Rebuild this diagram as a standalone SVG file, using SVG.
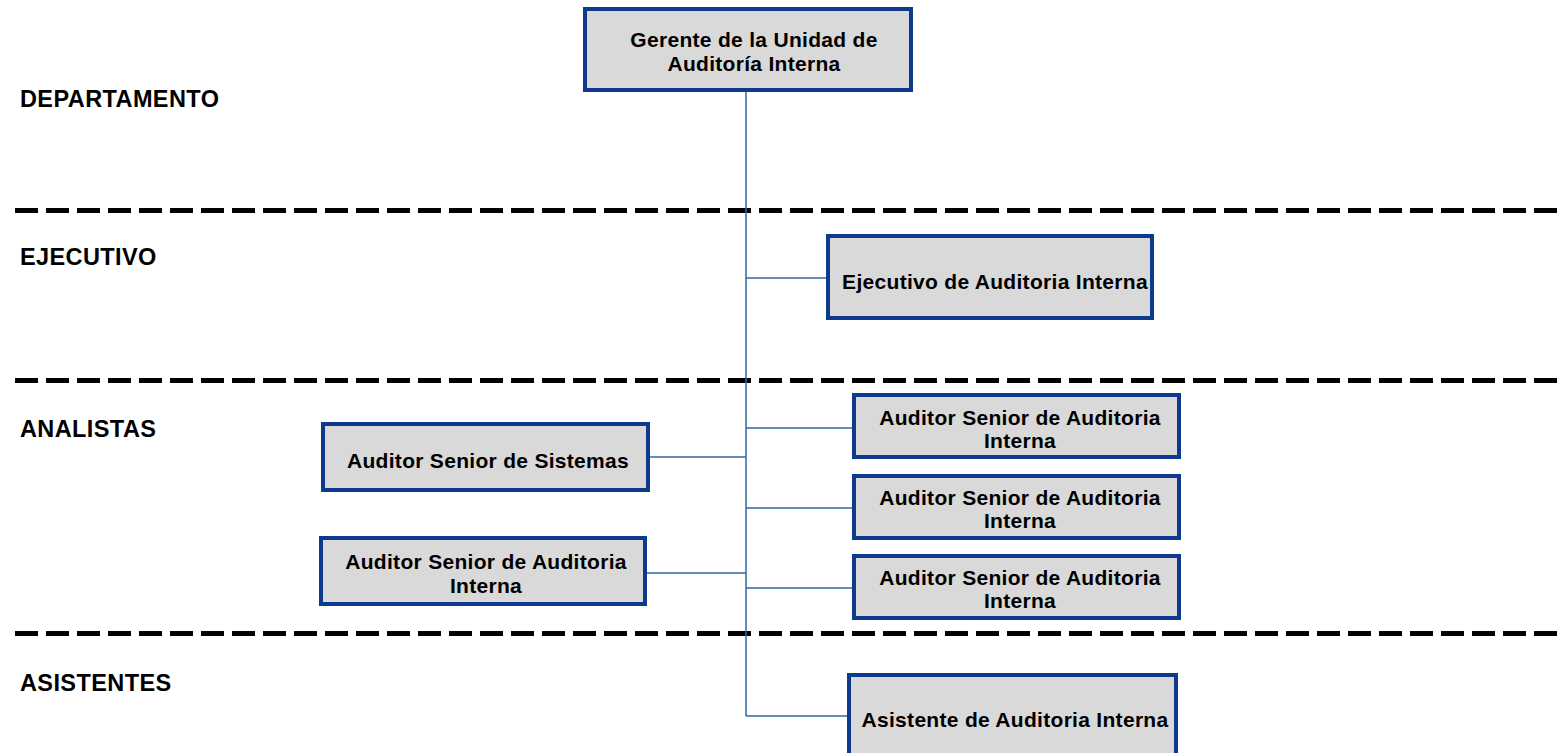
<svg xmlns="http://www.w3.org/2000/svg" width="1562" height="753" viewBox="0 0 1562 753">
<style>
.bg{fill:#ffffff}
.box{fill:#d9d9d9;stroke:#0d3a8c;stroke-width:4}
.t{font-family:"Liberation Sans",Arial,sans-serif;font-weight:bold;font-size:21px;letter-spacing:0.3px;fill:#000;text-anchor:middle}
.lab{font-family:"Liberation Sans",Arial,sans-serif;font-weight:bold;font-size:23.5px;letter-spacing:0.4px;fill:#000}
.sep{stroke:#000;stroke-width:5;stroke-dasharray:23 8;fill:none}
.con{stroke:#2f68a6;stroke-width:1.5;fill:none}
</style>
<rect class="bg" x="0" y="0" width="1562" height="753"/>
<g id="separators">
<line class="sep" x1="15" y1="210.5" x2="1562" y2="210.5"/>
<line class="sep" x1="15" y1="380.5" x2="1562" y2="380.5"/>
<line class="sep" x1="15" y1="633.5" x2="1562" y2="633.5"/>
</g>
<g id="levels">
<text class="lab" x="20" y="107">DEPARTAMENTO</text>
<text class="lab" x="20" y="265">EJECUTIVO</text>
<text class="lab" x="20" y="437">ANALISTAS</text>
<text class="lab" x="20" y="691">ASISTENTES</text>
</g>
<g id="connectors">
<line class="con" x1="746" y1="92" x2="746" y2="716"/>
<line class="con" x1="746" y1="278" x2="826" y2="278"/>
<line class="con" x1="746" y1="428" x2="852" y2="428"/>
<line class="con" x1="650" y1="457" x2="746" y2="457"/>
<line class="con" x1="746" y1="508" x2="852" y2="508"/>
<line class="con" x1="647" y1="573" x2="746" y2="573"/>
<line class="con" x1="746" y1="588" x2="852" y2="588"/>
<line class="con" x1="746" y1="716" x2="848" y2="716"/>
</g>
<g id="gerente">
<rect class="box" x="585" y="9" width="326" height="81"/>
<text class="t" x="754" y="47">Gerente de la Unidad de</text>
<text class="t" x="754" y="71">Auditoría Interna</text>
</g>
<g id="ejecutivo">
<rect class="box" x="828" y="236" width="324" height="82"/>
<text class="t" x="995" y="289">Ejecutivo de Auditoria Interna</text>
</g>
<g id="senior-sistemas">
<rect class="box" x="323" y="424" width="325" height="66"/>
<text class="t" x="488" y="468">Auditor Senior de Sistemas</text>
</g>
<g id="senior-auditoria-izq">
<rect class="box" x="321" y="538" width="324" height="66"/>
<text class="t" x="486" y="569">Auditor Senior de Auditoria</text>
<text class="t" x="486" y="593">Interna</text>
</g>
<g id="senior-auditoria-1">
<rect class="box" x="854" y="395" width="325" height="62"/>
<text class="t" x="1020" y="425">Auditor Senior de Auditoria</text>
<text class="t" x="1020" y="448">Interna</text>
</g>
<g id="senior-auditoria-2">
<rect class="box" x="854" y="476" width="325" height="62"/>
<text class="t" x="1020" y="505">Auditor Senior de Auditoria</text>
<text class="t" x="1020" y="528">Interna</text>
</g>
<g id="senior-auditoria-3">
<rect class="box" x="854" y="556" width="325" height="62"/>
<text class="t" x="1020" y="585">Auditor Senior de Auditoria</text>
<text class="t" x="1020" y="608">Interna</text>
</g>
<g id="asistente">
<rect class="box" x="849" y="675" width="327" height="82"/>
<text class="t" x="1015" y="727">Asistente de Auditoria Interna</text>
</g>
</svg>
